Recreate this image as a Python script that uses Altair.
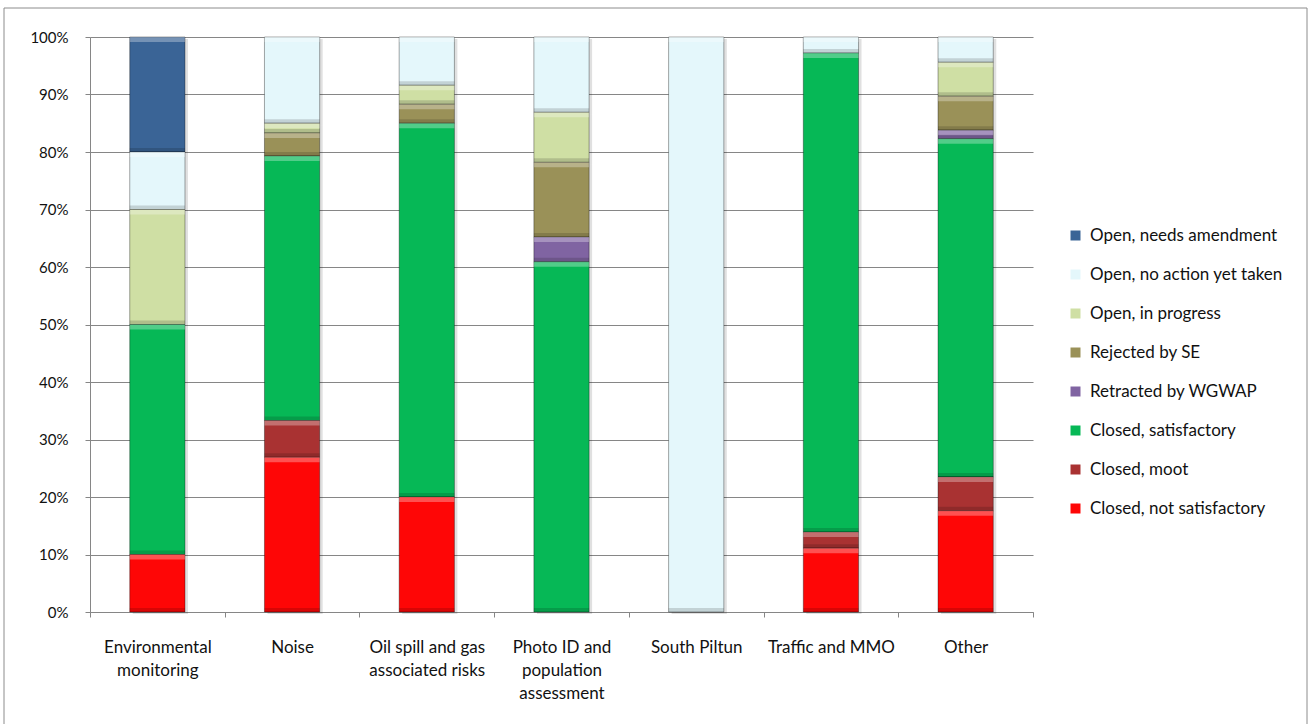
import altair as alt
import pandas as pd

# Categories (use "|" for line breaks in axis labels)
categories = [
    "Environmental|monitoring",
    "Noise",
    "Oil spill and gas|associated risks",
    "Photo ID and|population|assessment",
    "South Piltun",
    "Traffic and MMO",
    "Other",
]

# Series names, listed from the top of each stack downwards (legend order)
series = [
    "Open, needs amendment",
    "Open, no action yet taken",
    "Open, in progress",
    "Rejected by SE",
    "Retracted by WGWAP",
    "Closed, satisfactory",
    "Closed, moot",
    "Closed, not satisfactory",
]

colors = [
    "#3A6496",
    "#E4F7FB",
    "#CFDFA4",
    "#9A9158",
    "#8064A2",
    "#06B856",
    "#A93232",
    "#FE0606",
]

# Share of recommendations per category (percent)
needs_amendment = [20, 0, 0, 0, 0, 0, 0]
no_action = [10, 15.0, 8.4, 13.1, 100, 2.8, 4.4]
in_progress = [20, 1.7, 3.3, 8.7, 0, 0, 5.9]
rejected = [0, 4.0, 3.3, 13.0, 0, 0, 5.9]
retracted = [0, 0, 0, 4.3, 0, 0, 1.5]
satisfactory = [40, 46.0, 65, 60.9, 0, 83.3, 58.8]
moot = [0, 6.4, 0, 0, 0, 2.8, 5.9]
not_satisfactory = [10, 26.9, 20, 0, 0, 11.1, 17.6]

values_by_series = [
    needs_amendment,
    no_action,
    in_progress,
    rejected,
    retracted,
    satisfactory,
    moot,
    not_satisfactory,
]

rows = []
for s_idx, (name, vals) in enumerate(zip(series, values_by_series)):
    stack_order = len(series) - 1 - s_idx  # bottom of stack = last series
    for cat, v in zip(categories, vals):
        if v > 0:
            rows.append({"category": cat, "status": name, "value": v, "order": stack_order})
df = pd.DataFrame(rows)

FONT = "Lato"
GRID = "#868686"
BAR_BAND = 0.41

base = alt.Chart(df).transform_stack(
    stack="value",
    as_=["y0", "y1"],
    groupby=["category"],
    sort=[alt.SortField("order", order="ascending")],
    offset="normalize",
)

x_enc = alt.X(
    "category:N",
    sort=categories,
    scale=alt.Scale(paddingInner=0, paddingOuter=0),
    axis=alt.Axis(
        title=None,
        labelAngle=0,
        labelAlign="center",
        labelBaseline="top",
        labelExpr="split(datum.label, '|')",
        labelFont=FONT,
        labelFontSize=17,
        labelLineHeight=23,
        labelColor="#111111",
        labelPadding=22,
        labelLimit=0,
        tickBand="extent",
        tickSize=5,
        tickColor=GRID,
        domainColor=GRID,
        grid=False,
    ),
)

y_enc = alt.Y(
    "y1:Q",
    scale=alt.Scale(domain=[0, 1], nice=False),
    axis=alt.Axis(
        title=None,
        format=".0%",
        values=[i / 10 for i in range(11)],
        labelFont=FONT,
        labelFontSize=15,
        labelColor="#111111",
        labelPadding=17,
        tickSize=5,
        tickColor=GRID,
        domainColor=GRID,
        grid=True,
        gridColor=GRID,
        gridWidth=1.2,
    ),
)

x_plain = alt.X("category:N", sort=categories)

# Soft drop shadow behind the bars
drop = base.mark_bar(
    width={"band": BAR_BAND}, color="black", opacity=0.12, xOffset=3, yOffset=2, y2Offset=2
).encode(x=x_plain, y="y1:Q", y2="y0:Q")

bars = base.mark_bar(
    width={"band": BAR_BAND}, stroke="black", strokeOpacity=0.35, strokeWidth=1
).encode(
    x=x_enc,
    y=y_enc,
    y2="y0:Q",
    color=alt.Color(
        "status:N",
        scale=alt.Scale(domain=series, range=colors),
        legend=alt.Legend(
            title=None,
            orient="none",
            legendX=977,
            legendY=190,
            padding=0,
            symbolType="square",
            symbolSize=100,
            symbolStrokeWidth=0,
            labelFont=FONT,
            labelFontSize=17,
            labelColor="#111111",
            labelOffset=6,
            rowPadding=21,
            labelLimit=0,
        ),
    ),
    tooltip=["category:N", "status:N", "value:Q"],
)

# Bevel: light strip along the top of each segment, dark strip along the bottom
highlight = base.mark_bar(
    width={"band": BAR_BAND}, color="white", opacity=0.3, y2Offset=5
).encode(x=x_plain, y="y1:Q", y2="y1:Q")

shadow = base.mark_bar(
    width={"band": BAR_BAND}, color="black", opacity=0.15, yOffset=-4
).encode(x=x_plain, y="y0:Q", y2="y0:Q")

frame = alt.Chart(alt.Data(values=[{}])).mark_rect(
    fillOpacity=0, stroke="#8C8C8C", strokeWidth=1
).encode(
    x=alt.value(-86), x2=alt.value(1217), y=alt.value(-29), y2=alt.value(700)
)

chart = alt.layer(frame, drop, bars, highlight, shadow).properties(
    width=943,
    height=575,
    padding={"left": 90, "top": 37, "right": 280, "bottom": 112},
    autosize=alt.AutoSizeParams(type="none"),
    background="white",
).configure_view(stroke=None)

chart.save("out.html", embed_options={"renderer": "svg", "actions": False})
